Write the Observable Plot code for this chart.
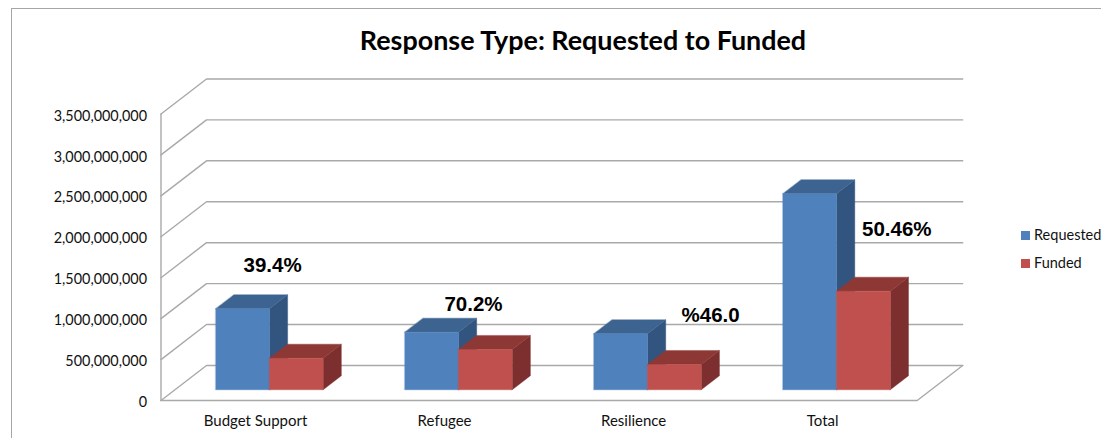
<!DOCTYPE html>
<html>
<head>
<meta charset="utf-8">
<script src="https://cdn.jsdelivr.net/npm/d3@7"></script>
<script src="https://cdn.jsdelivr.net/npm/@observablehq/plot@0.6"></script>
<style>
  html, body { margin: 0; padding: 0; background: #fff; overflow: hidden; }
  #page { position: relative; width: 1101px; height: 438px; overflow: hidden; font-family: Lato, sans-serif; }
  #frame { position: absolute; left: 11px; top: 8px; right: -5px; bottom: -5px; border-left: 1.4px solid #a6a6a6; border-top: 1.4px solid #a6a6a6; }
  #chart { position: absolute; left: 0; top: 0; }
  #title { position: absolute; left: 283px; width: 600px; top: 23px; margin: 0; text-align: center; font: 700 26.9px/34px Lato, sans-serif; color: #000; }
  .key { position: absolute; left: 1021px; font: 14.5px/18px Lato, sans-serif; color: #111; white-space: nowrap; padding-left: 13px; }
  .key i { position: absolute; left: 0; top: 5px; width: 9px; height: 9px; }
</style>
</head>
<body>
<div id="page">
  <div id="frame"></div>
  <div id="chart"></div>
  <h1 id="title">Response Type: Requested to Funded</h1>
  <div class="key" style="top:226px"><i style="background:#4f81bd"></i>Requested</div>
  <div class="key" style="top:254px"><i style="background:#c0504d"></i>Funded</div>
</div>
<script>
const categories = ["Budget Support", "Refugee", "Resilience", "Total"];
const requested = [990e6, 704e6, 684e6, 2395e6];
const funded = [386e6, 493e6, 309e6, 1205e6];
const percentLabels = ["39.4%", "70.2%", "%46.0", "50.46%"];
const percentLabelX = [0.59, 1.653, 2.907, 3.892];
const percentLabelY = [1650e6, 1174e6, 1039e6, 2090e6];
const yTicks = [0, 5e8, 1e9, 1.5e9, 2e9, 2.5e9, 3e9, 3.5e9];

// Oblique projection of the 3-D chart box, in scale units
const wallDx = 0.2407, wallDy = 428e6;
const barDepthStart = 0.306, barDepthSize = 0.4, barWidth = 0.284;
const project = (x, v, z) => ({x: x + z * wallDx, y: v + z * wallDy});

const gridLines = yTicks.flatMap((v) => [
  {id: v, ...project(0, v, 0)},
  {id: v, ...project(0, v, 1)},
  {id: v, ...project(4, v, 1)}
]);
const floorEdge = [project(0, 0, 0), project(4, 0, 0), project(4, 0, 1)];
const axisEdge = [project(0, 0, 0), project(0, 3.5e9, 0)];

function faces(values, offset) {
  const front = [], top = [], side = [];
  values.forEach((v, i) => {
    const a = i + 0.5 + offset * barWidth, b = a + barWidth;
    const z0 = barDepthStart, z1 = barDepthStart + barDepthSize;
    const add = (arr, pts) => pts.forEach((p) => arr.push({id: i, ...project(...p)}));
    add(front, [[a, 0, z0], [b, 0, z0], [b, v, z0], [a, v, z0]]);
    add(top, [[a, v, z0], [b, v, z0], [b, v, z1], [a, v, z1]]);
    add(side, [[b, 0, z0], [b, 0, z1], [b, v, z1], [b, v, z0]]);
  });
  return {front, top, side};
}
const face = (rows, fill) => Plot.line(rows, {
  x: "x", y: "y", z: "id", fill, stroke: fill, strokeWidth: 0.4, curve: "linear-closed"
});
const req = faces(requested, -1), fun = faces(funded, 0);

const chart = Plot.plot({
  width: 1101,
  height: 438,
  marginLeft: 160.5,
  marginRight: 184.3,
  marginTop: 113.5,
  marginBottom: 38,
  x: {domain: [0, 4]},
  y: {domain: [0, 3.5e9]},
  style: {background: "transparent", overflow: "visible", fontFamily: "Lato, sans-serif"},
  marks: [
    Plot.line(gridLines, {x: "x", y: "y", z: "id", stroke: "#a9a9a9", strokeWidth: 1.4}),
    Plot.line(floorEdge, {x: "x", y: "y", stroke: "#a9a9a9", strokeWidth: 1.4}),
    Plot.line(axisEdge, {x: "x", y: "y", stroke: "#a9a9a9", strokeWidth: 1.4}),
    face(req.side, "#32557f"), face(req.top, "#3d6491"), face(req.front, "#4f81bd"),
    face(fun.side, "#7c2f2e"), face(fun.top, "#8e3836"), face(fun.front, "#c0504d"),
    Plot.axisY({
      ticks: yTicks, tickFormat: d3.format(","), tickSize: 0, tickPadding: 14,
      label: null, fontSize: 14.4, color: "#111", dy: 2
    }),
    Plot.axisX({
      ticks: categories.map((_, i) => i + 0.5),
      tickFormat: (t) => categories[Math.round(t - 0.5)],
      tickSize: 0, tickPadding: 15, label: null, fontSize: 15, color: "#111"
    }),
    Plot.text(percentLabels, {
      x: (_, i) => percentLabelX[i], y: (_, i) => percentLabelY[i],
      text: (d) => d, fontSize: 20.5, fontWeight: 700, fill: "#000",
      fontFamily: "Liberation Sans, Arial, sans-serif"
    })
  ]
});
document.getElementById("chart").append(chart);
</script>
</body>
</html>
